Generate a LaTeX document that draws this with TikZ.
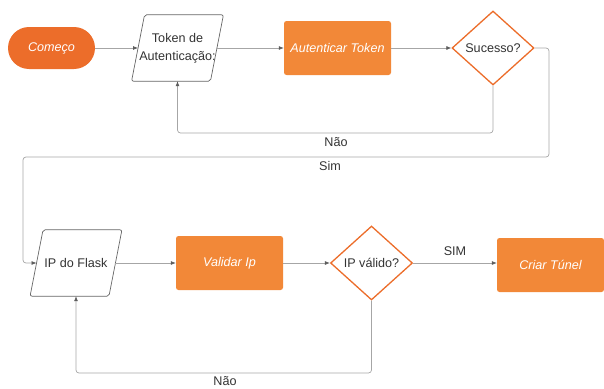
\documentclass[tikz,border=0pt]{standalone}
\usepackage{fontspec}
\setmainfont{Liberation Sans}
\usetikzlibrary{shapes.geometric,arrows.meta,calc}
\definecolor{orng}{HTML}{F28838}
\definecolor{orngdk}{HTML}{EC6D2A}
\definecolor{linegray}{HTML}{A6A6A6}
\definecolor{txt}{HTML}{333333}
\begin{document}
\begin{tikzpicture}[x=1pt,y=-1pt,
  every node/.style={font=\fontsize{12.6}{18}\selectfont},
  procbox/.style={rectangle,fill=orng,rounded corners=2.5pt,minimum width=107pt,minimum height=54pt,text=white,font=\fontsize{12.6}{18}\selectfont\itshape},
  startbox/.style={rectangle,fill=orngdk,rounded corners=21pt,minimum width=87pt,minimum height=42pt,text=white,font=\fontsize{12.6}{18}\selectfont\itshape},
  iobox/.style={rectangle,minimum width=78.5pt,minimum height=66pt,text=txt,align=center,inner sep=1pt},
  ioline/.style={draw=gray!80!black,line width=0.7pt,rounded corners=2pt,fill=white},
  decbox/.style={diamond,draw=orngdk,line width=1.3pt,fill=white,minimum width=82pt,minimum height=74pt,aspect=1.1,text=txt,inner sep=0pt},
  conn/.style={draw=linegray,line width=0.7pt,rounded corners=3pt,-{Latex[length=5pt,width=4pt,color=txt!80]}},
  lbl/.style={text=txt,font=\fontsize{12.6}{18}\selectfont}]
\useasboundingbox (0,0) rectangle (604,388);
\node[startbox] (start) at (51.5,48) {Começo};
\node[iobox] (tok) at (177.5,48) {};
\node[procbox] (aut) at (337.5,48) {Autenticar Token};
\node[decbox] (suc) at (493,48) {Sucesso?};
\node[iobox] (flask) at (76,263) {};
\node[procbox] (val) at (229.5,263) {Validar Ip};
\node[decbox] (ipv) at (371.5,263) {IP válido?};
\node[procbox] (tun) at (550.5,265) {Criar Túnel};
\foreach \n in {tok,flask}
  \draw[ioline] ($(\n.south west)+(-6.5,0)$) -- ($(\n.north west)+(6.5,0)$) -- ($(\n.north east)+(6.5,0)$) -- ($(\n.south east)+(-6.5,0)$) -- cycle;
\node[text=txt,align=center] (toktext) at (tok) {Token de\\Autenticação:};
\node[text=txt] (flasktext) at (flask) {IP do Flask};
\coordinate (s1) at (549,157);
\coordinate (s2) at (23,157);
\coordinate (n1) at (493,133);
\coordinate (n2) at (371.5,373);
\draw[conn] (start) -- (tok);
\draw[conn] (tok) -- (aut);
\draw[conn] (aut) -- (suc);
\draw[conn] (suc.south) -- (n1) -| (tok);
\draw[conn] (suc.east) -| (s1) -- (s2) |- (flask.west);
\draw[conn] (flask) -- (val);
\draw[conn] (val) -- (ipv);
\draw[conn] (ipv) -- (ipv -| tun.west);
\draw[conn] (ipv.south) -- (n2) -| (flask);
\node[lbl] (l1) at (336,142) {Não};
\node[lbl] (l2) at (330,166) {Sim};
\node[lbl] (l3) at (455,251) {SIM};
\node[lbl] (l4) at (225,381) {Não};
\end{tikzpicture}
\end{document}
